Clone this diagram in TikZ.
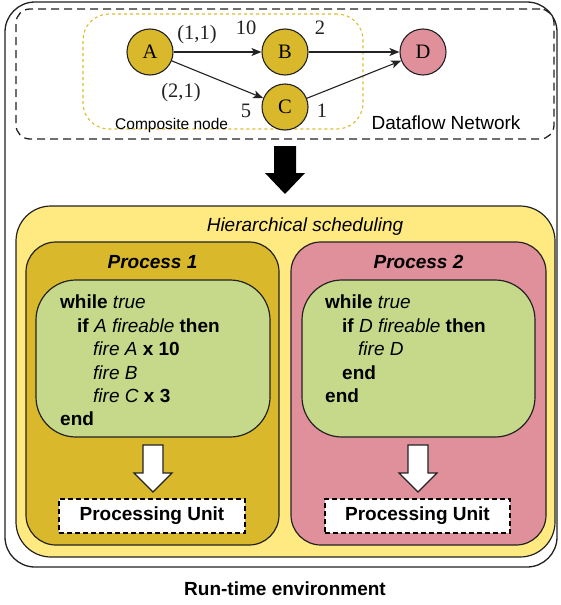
\documentclass[tikz,border=0pt]{standalone}
\usepackage{fontspec}
\setmainfont{Liberation Sans}
\newfontfamily\netserif{Liberation Serif}
\usetikzlibrary{arrows.meta}
\definecolor{mustard}{HTML}{D9B92B}
\definecolor{rosepink}{HTML}{E0909B}
\definecolor{paleyellow}{HTML}{FFEA82}
\definecolor{codegreen}{HTML}{C6D98B}
\definecolor{dotgold}{HTML}{DDBB2A}
\definecolor{ink}{HTML}{222222}
\begin{document}
\begin{tikzpicture}[x=1pt,y=-1pt,
  box/.style={draw=ink,line width=1.2pt,rectangle,inner sep=0pt},
  actor/.style={circle,draw=ink,line width=1.1pt,minimum size=46pt,inner sep=0pt,
    font=\netserif\fontsize{20.5}{22}\selectfont},
  rate/.style={anchor=base,text=ink,inner sep=0pt,font=\netserif\fontsize{20.5}{22}\selectfont},
  flow/.style={draw=ink,line width=1.1pt,-{Stealth[length=10pt,width=8pt,inset=2.5pt]}},
  sans/.style={inner sep=0pt,font=\fontsize{19}{23.4}\selectfont},
  codeline/.style={sans,anchor=base west},
]
\useasboundingbox (0,0) rectangle (560,605);

% run-time environment frame
\node[box,rounded corners=30pt,minimum width=552pt,minimum height=565pt,line width=1.3pt] (runtime) at (281,284.5) {};
\node[sans,anchor=base,font=\bfseries\fontsize{19}{23.4}\selectfont] (rtlabel) at (285,595) {Run-time environment};

% dataflow network
\node[box,draw=ink,line width=1.3pt,dash pattern=on 8pt off 5pt,rounded corners=14pt,
  minimum width=538pt,minimum height=130pt] (network) at (285,74) {};
\node[box,draw=dotgold,line width=1.1pt,dash pattern=on 3pt off 3pt,rounded corners=26pt,
  minimum width=280pt,minimum height=115pt] (composite) at (223,71.5) {};
\node[sans,anchor=base west,font=\fontsize{15.5}{18}\selectfont] (complabel) at (115,129) {Composite node};
\node[sans,anchor=base] (netlabel) at (446,129) {Dataflow Network};

\node[actor,fill=mustard] (A) at (150,52) {A};
\node[actor,fill=mustard] (B) at (285,52) {B};
\node[actor,fill=mustard] (C) at (285,107) {C};
\node[actor,fill=rosepink] (D) at (423,52) {D};

\draw[flow] (A) -- (B);
\draw[flow] (B) -- (D);
\draw[flow] (A) -- (C);
\draw[flow] (C) -- (D);

\node[rate] (r11) at (197,39.5) {(1,1)};
\node[rate] (r10) at (246,34) {10};
\node[rate] (r2) at (320,34) {2};
\node[rate] (r21) at (181,97) {(2,1)};
\node[rate] (r5) at (246,117) {5};
\node[rate] (r1) at (322,117) {1};

% compile-down arrow
\fill[black] (274,146) -- (296,146) -- (296,173) -- (305,173) -- (285,194)
  -- (265,173) -- (274,173) -- cycle;

% hierarchical scheduling
\node[box,fill=paleyellow,rounded corners=35pt,minimum width=539pt,minimum height=351pt] (sched) at (285.5,381.5) {};
\node[sans,anchor=base,font=\itshape\fontsize{19}{23.4}\selectfont] (schedlabel) at (305,231) {Hierarchical scheduling};

\node[box,fill=mustard,rounded corners=30pt,minimum width=253pt,minimum height=303pt] (proc1) at (152.5,393.5) {};
\node[box,fill=rosepink,rounded corners=30pt,minimum width=255pt,minimum height=303pt] (proc2) at (418.5,393.5) {};
\node[sans,anchor=base,font=\bfseries\itshape\fontsize{19}{23.4}\selectfont] (p1label) at (152.5,268) {Process 1};
\node[sans,anchor=base,font=\bfseries\itshape\fontsize{19}{23.4}\selectfont] (p2label) at (418.5,268) {Process 2};

\node[box,fill=codegreen,rounded corners=40pt,minimum width=234pt,minimum height=157pt] (code1) at (153,358.5) {};
\node[box,fill=codegreen,rounded corners=40pt,minimum width=233pt,minimum height=157pt] (code2) at (418.5,358.5) {};

% schedule of process 1
\node[codeline] (c1a) at (60,308.8) {\textbf{while} \textit{true}};
\node[codeline] (c1b) at (77,332.2) {\textbf{if} \textit{A fireable} \textbf{then}};
\node[codeline] (c1c) at (93,355.6) {\textit{fire A} \textbf{x 10}};
\node[codeline] (c1d) at (93,379) {\textit{fire B}};
\node[codeline] (c1e) at (93,402.4) {\textit{fire C} \textbf{x 3}};
\node[codeline] (c1f) at (60,425.8) {\textbf{end}};

% schedule of process 2
\node[codeline] (c2a) at (325,308.8) {\textbf{while} \textit{true}};
\node[codeline] (c2b) at (342,332.2) {\textbf{if} \textit{D fireable} \textbf{then}};
\node[codeline] (c2c) at (358,355.6) {\textit{fire D}};
\node[codeline] (c2d) at (342,379) {\textbf{end}};
\node[codeline] (c2e) at (325,402.4) {\textbf{end}};

% mapping arrows
\foreach \cx in {153,418}{
  \filldraw[fill=white,draw=ink,line width=1.1pt,line join=miter]
    (\cx-10,445) -- (\cx+10,445) -- (\cx+10,473) -- (\cx+19,473) -- (\cx,492)
    -- (\cx-19,473) -- (\cx-10,473) -- cycle;
}

% processing units
\node[box,fill=white,draw=black,line width=1.3pt,dash pattern=on 5pt off 3pt,
  minimum width=186pt,minimum height=34pt,font=\bfseries\fontsize{19}{23.4}\selectfont] (pu1) at (152,516) {Processing Unit};
\node[box,fill=white,draw=black,line width=1.3pt,dash pattern=on 5pt off 3pt,
  minimum width=185pt,minimum height=34pt,font=\bfseries\fontsize{19}{23.4}\selectfont] (pu2) at (417.5,516) {Processing Unit};
\end{tikzpicture}
\end{document}
